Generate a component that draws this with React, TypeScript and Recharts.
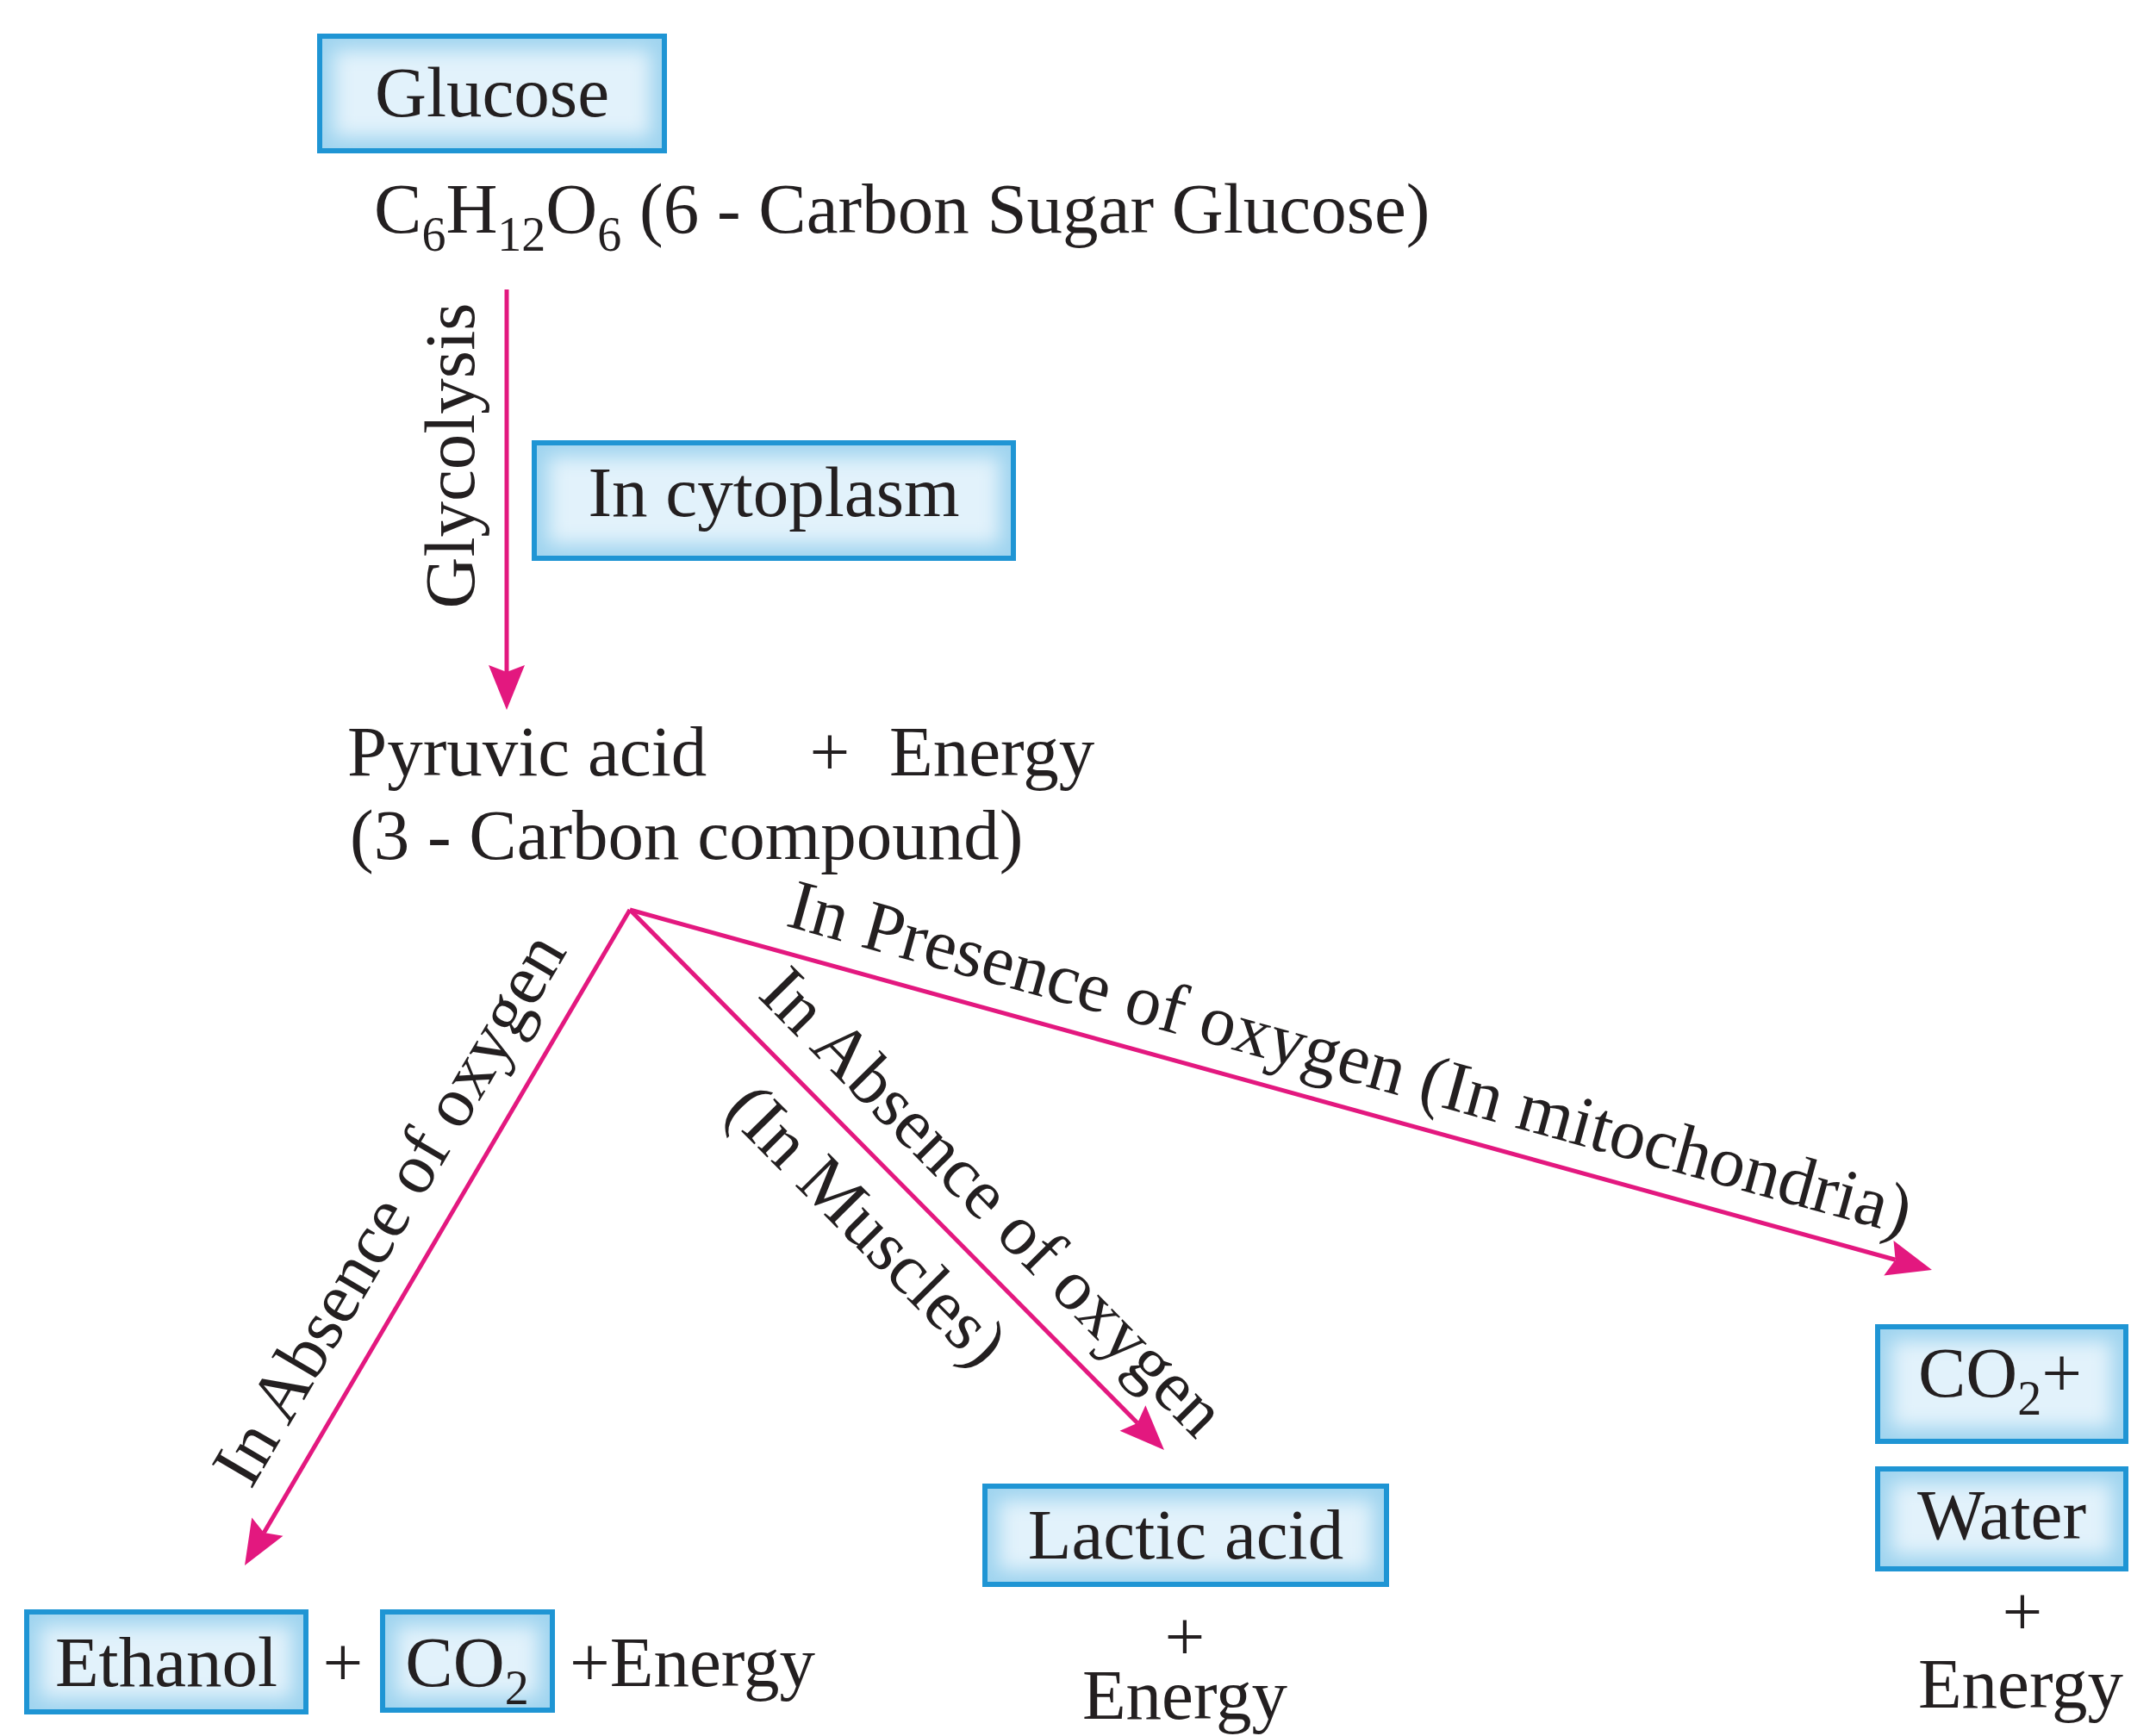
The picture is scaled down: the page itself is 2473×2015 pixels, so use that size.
import React from 'react';
import { ScatterChart, Scatter, XAxis, YAxis, ReferenceArea, ReferenceLine } from 'recharts';

const W = 2473;
const H = 2015;

// Boxes (diagram units = reference pixels)
const boxNames = ['Glucose', 'In cytoplasm', 'Ethanol', 'CO2', 'Lactic acid', 'CO2+', 'Water'];
const boxLeft = [371, 620, 31, 444, 1143, 2179, 2179];
const boxTop = [42, 514, 1871, 1871, 1725, 1540, 1705];
const boxRight = [771, 1176, 355, 641, 1609, 2467, 2467];
const boxBottom = [175, 648, 1987, 1985, 1839, 1673, 1821];

// Arrows
const arrowFromX = [588, 731, 731, 731];
const arrowFromY = [336, 1056, 1056, 1056];
const arrowToX = [588, 284, 1351, 2242];
const arrowToY = [824, 1817, 1683, 1474];

// Labels ("_n" = subscript n)
const labelText = [
  'Glucose',
  'C_6H_12O_6 (6 - Carbon Sugar Glucose)',
  'Glycolysis',
  'In cytoplasm',
  'Pyruvic acid',
  '+',
  'Energy',
  '(3 - Carbon compound)',
  'In Absence of oxygen',
  'In Absence of oxygen',
  '(In Muscles)',
  'In Presence of oxygen (In mitochondria)',
  'Ethanol',
  '+',
  'CO_2',
  '+Energy',
  'Lactic acid',
  '+',
  'Energy',
  'CO_2+',
  'Water',
  '+',
  'Energy',
];
const labelX = [571, 434, 550, 898, 403, 963, 1032, 406, 475, 1133, 987, 1560, 193, 398, 542, 661, 1376, 1375, 1375, 2321, 2323, 2347, 2345];
const labelY = [135, 270, 529, 599, 900, 900, 900, 997, 1417, 1414, 1441, 1254, 1957, 1957, 1957, 1957, 1809, 1927, 1995, 1621, 1786, 1898, 1982];
const labelAngle = [0, 0, -90, 0, 0, 0, 0, 0, -59.6, 45.3, 45.3, 15.46, 0, 0, 0, 0, 0, 0, 0, 0, 0, 0, 0];
const labelAnchor = ['middle', 'start', 'middle', 'middle', 'start', 'middle', 'start', 'start', 'middle', 'middle', 'middle', 'middle', 'middle', 'middle', 'middle', 'start', 'middle', 'middle', 'middle', 'middle', 'middle', 'middle', 'middle'];

const labels = labelText.map((t, i) => ({
  x: labelX[i],
  y: labelY[i],
  text: t,
  angle: labelAngle[i],
  anchor: labelAnchor[i],
}));

const FONT = '"Liberation Serif", "Times New Roman", serif';
const TEXT_COLOR = '#231f20';
const ARROW_COLOR = '#e3187f';
const FS = 83;
const SUB = 56;
const SUB_DY = 21;

const BoxShape = (p: any) => {
  const { x, y, width, height } = p;
  const inset = 16;
  const cid = `clip-${Math.round(x)}-${Math.round(y)}`;
  return (
    <g>
      <defs>
        <filter id="boxGlow" x="-50%" y="-50%" width="200%" height="200%">
          <feGaussianBlur stdDeviation="11" />
        </filter>
        <clipPath id={cid}>
          <rect x={x} y={y} width={width} height={height} />
        </clipPath>
      </defs>
      <g clipPath={`url(#${cid})`}>
        <rect x={x} y={y} width={width} height={height} fill="#9fd4ef" />
        <rect
          x={x + inset}
          y={y + inset}
          width={Math.max(0, width - 2 * inset)}
          height={Math.max(0, height - 2 * inset)}
          fill="#e2f2fb"
          filter="url(#boxGlow)"
        />
      </g>
      <rect x={x} y={y} width={width} height={height} fill="none" stroke="#1f95d4" strokeWidth={6} />
    </g>
  );
};

const ArrowShape = (p: any) => {
  const { x1, y1, x2, y2 } = p;
  const dx = x2 - x1;
  const dy = y2 - y1;
  const len = Math.hypot(dx, dy) || 1;
  const ux = dx / len;
  const uy = dy / len;
  const hl = 52;
  const hw = 21;
  const notch = 8;
  const bx = x2 - ux * hl;
  const by = y2 - uy * hl;
  const nx = bx + ux * notch;
  const ny = by + uy * notch;
  const pts = `${x2},${y2} ${bx - uy * hw},${by + ux * hw} ${nx},${ny} ${bx + uy * hw},${by - ux * hw}`;
  return (
    <g>
      <line x1={x1} y1={y1} x2={nx} y2={ny} stroke={ARROW_COLOR} strokeWidth={5} />
      <polygon points={pts} fill={ARROW_COLOR} />
    </g>
  );
};

const renderParts = (text: string) => {
  const parts = text.split(/_(\d+)/);
  const out: any[] = [];
  let shifted = false;
  parts.forEach((part, i) => {
    if (part === '') return;
    if (i % 2 === 1) {
      out.push(
        <tspan key={i} fontSize={SUB} dy={shifted ? 0 : SUB_DY}>
          {part}
        </tspan>
      );
      shifted = true;
    } else {
      out.push(
        <tspan key={i} dy={shifted ? -SUB_DY : 0}>
          {part}
        </tspan>
      );
      shifted = false;
    }
  });
  return out;
};

const LabelShape = (p: any) => {
  const { cx, cy, payload } = p;
  if (cx == null || cy == null || !payload) return <g />;
  const angle = payload.angle || 0;
  return (
    <text
      x={cx}
      y={cy}
      textAnchor={payload.anchor}
      transform={angle ? `rotate(${angle} ${cx} ${cy})` : undefined}
      fontFamily={FONT}
      fontSize={FS}
      fill={TEXT_COLOR}
      style={{ whiteSpace: 'pre' }}
    >
      {renderParts(payload.text)}
    </text>
  );
};

export default function App() {
  return (
    <div style={{ position: 'absolute', left: 0, top: 0, width: W, height: H, background: '#ffffff' }}>
      <ScatterChart width={W} height={H} margin={{ top: 0, right: 0, bottom: 0, left: 0 }}>
        <XAxis type="number" dataKey="x" domain={[0, W]} hide allowDataOverflow />
        <YAxis type="number" dataKey="y" domain={[0, H]} reversed hide allowDataOverflow />
        {boxNames.map((n, i) => (
          <ReferenceArea
            key={`box-${i}`}
            x1={boxLeft[i]}
            x2={boxRight[i]}
            y1={boxTop[i]}
            y2={boxBottom[i]}
            ifOverflow="visible"
            shape={BoxShape}
          />
        ))}
        {arrowFromX.map((_, i) => (
          <ReferenceLine
            key={`arrow-${i}`}
            segment={[
              { x: arrowFromX[i], y: arrowFromY[i] },
              { x: arrowToX[i], y: arrowToY[i] },
            ]}
            ifOverflow="visible"
            shape={ArrowShape}
          />
        ))}
        <Scatter data={labels} isAnimationActive={false} shape={LabelShape} />
      </ScatterChart>
    </div>
  );
}
